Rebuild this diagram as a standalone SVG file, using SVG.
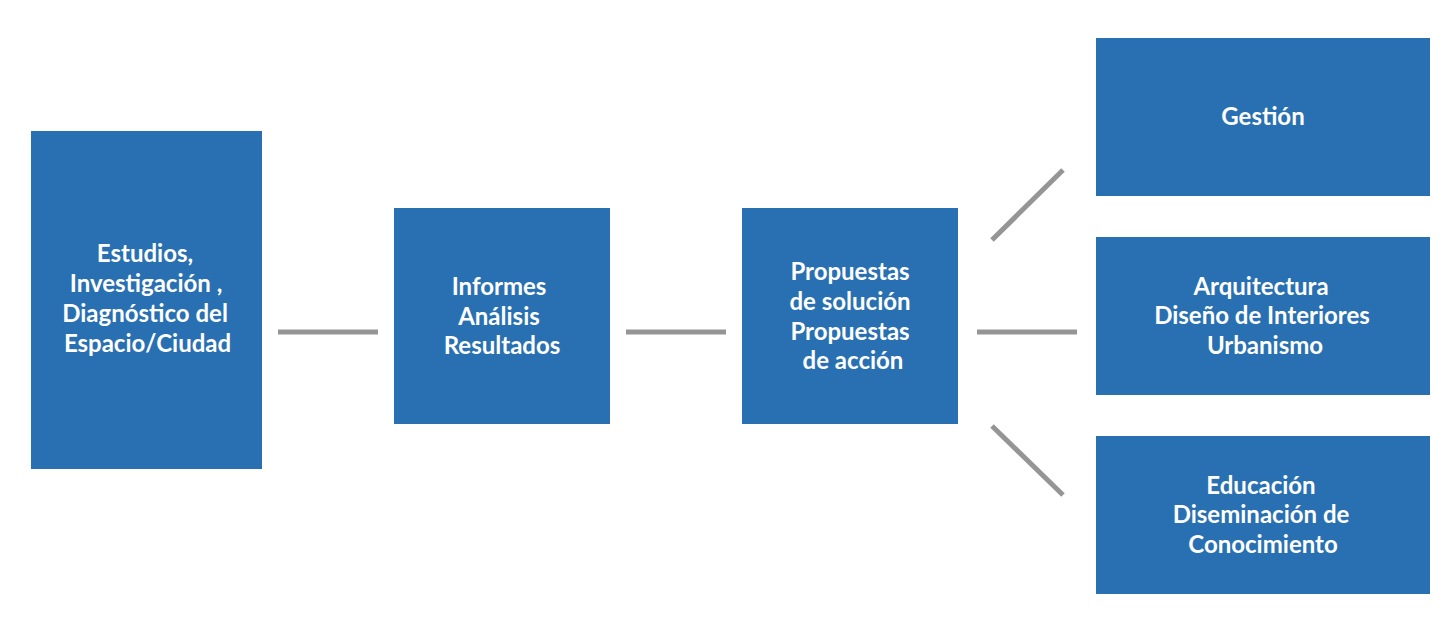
<svg xmlns="http://www.w3.org/2000/svg" width="1453" height="617" viewBox="0 0 1453 617">
<style>
.box{fill:#2870b2}
.t{font-family:Lato,"Liberation Sans",sans-serif;font-weight:bold;font-size:24px;fill:#ffffff;text-anchor:middle}
.c{stroke:#959595;stroke-width:5;fill:none}
</style>
<rect width="1453" height="617" fill="#ffffff"/>
<g id="connectors">
<line class="c" x1="278" y1="332" x2="378" y2="332"/>
<line class="c" x1="626" y1="332" x2="726" y2="332"/>
<line class="c" x1="977" y1="332" x2="1077" y2="332"/>
<line class="c" x1="992" y1="240" x2="1063" y2="170"/>
<line class="c" x1="992" y1="426" x2="1063" y2="495"/>
</g>
<g id="estudios">
<rect class="box" x="31" y="131" width="231" height="338"/>
<text class="t"><tspan x="145" y="262">Estudios,</tspan><tspan x="146" y="292">Investigación ,</tspan><tspan x="145" y="322">Diagnóstico del</tspan><tspan x="147.5" y="352">Espacio/Ciudad</tspan></text>
</g>
<g id="informes">
<rect class="box" x="394" y="208" width="216" height="216"/>
<text class="t"><tspan x="499" y="295">Informes</tspan><tspan x="499" y="325">Análisis</tspan><tspan x="502" y="354">Resultados</tspan></text>
</g>
<g id="propuestas">
<rect class="box" x="742" y="208" width="216" height="216"/>
<text class="t"><tspan x="850" y="280">Propuestas</tspan><tspan x="850" y="310">de solución</tspan><tspan x="850" y="340">Propuestas</tspan><tspan x="853" y="369">de acción</tspan></text>
</g>
<g id="gestion">
<rect class="box" x="1096" y="38" width="334" height="158"/>
<text class="t"><tspan x="1263" y="125">Gestión</tspan></text>
</g>
<g id="arquitectura">
<rect class="box" x="1096" y="237" width="334" height="158"/>
<text class="t"><tspan x="1261" y="295">Arquitectura</tspan><tspan x="1262" y="324">Diseño de Interiores</tspan><tspan x="1265" y="354">Urbanismo</tspan></text>
</g>
<g id="educacion">
<rect class="box" x="1096" y="436" width="334" height="158"/>
<text class="t"><tspan x="1261" y="494">Educación</tspan><tspan x="1261" y="523">Diseminación de</tspan><tspan x="1263" y="553">Conocimiento</tspan></text>
</g>
</svg>
